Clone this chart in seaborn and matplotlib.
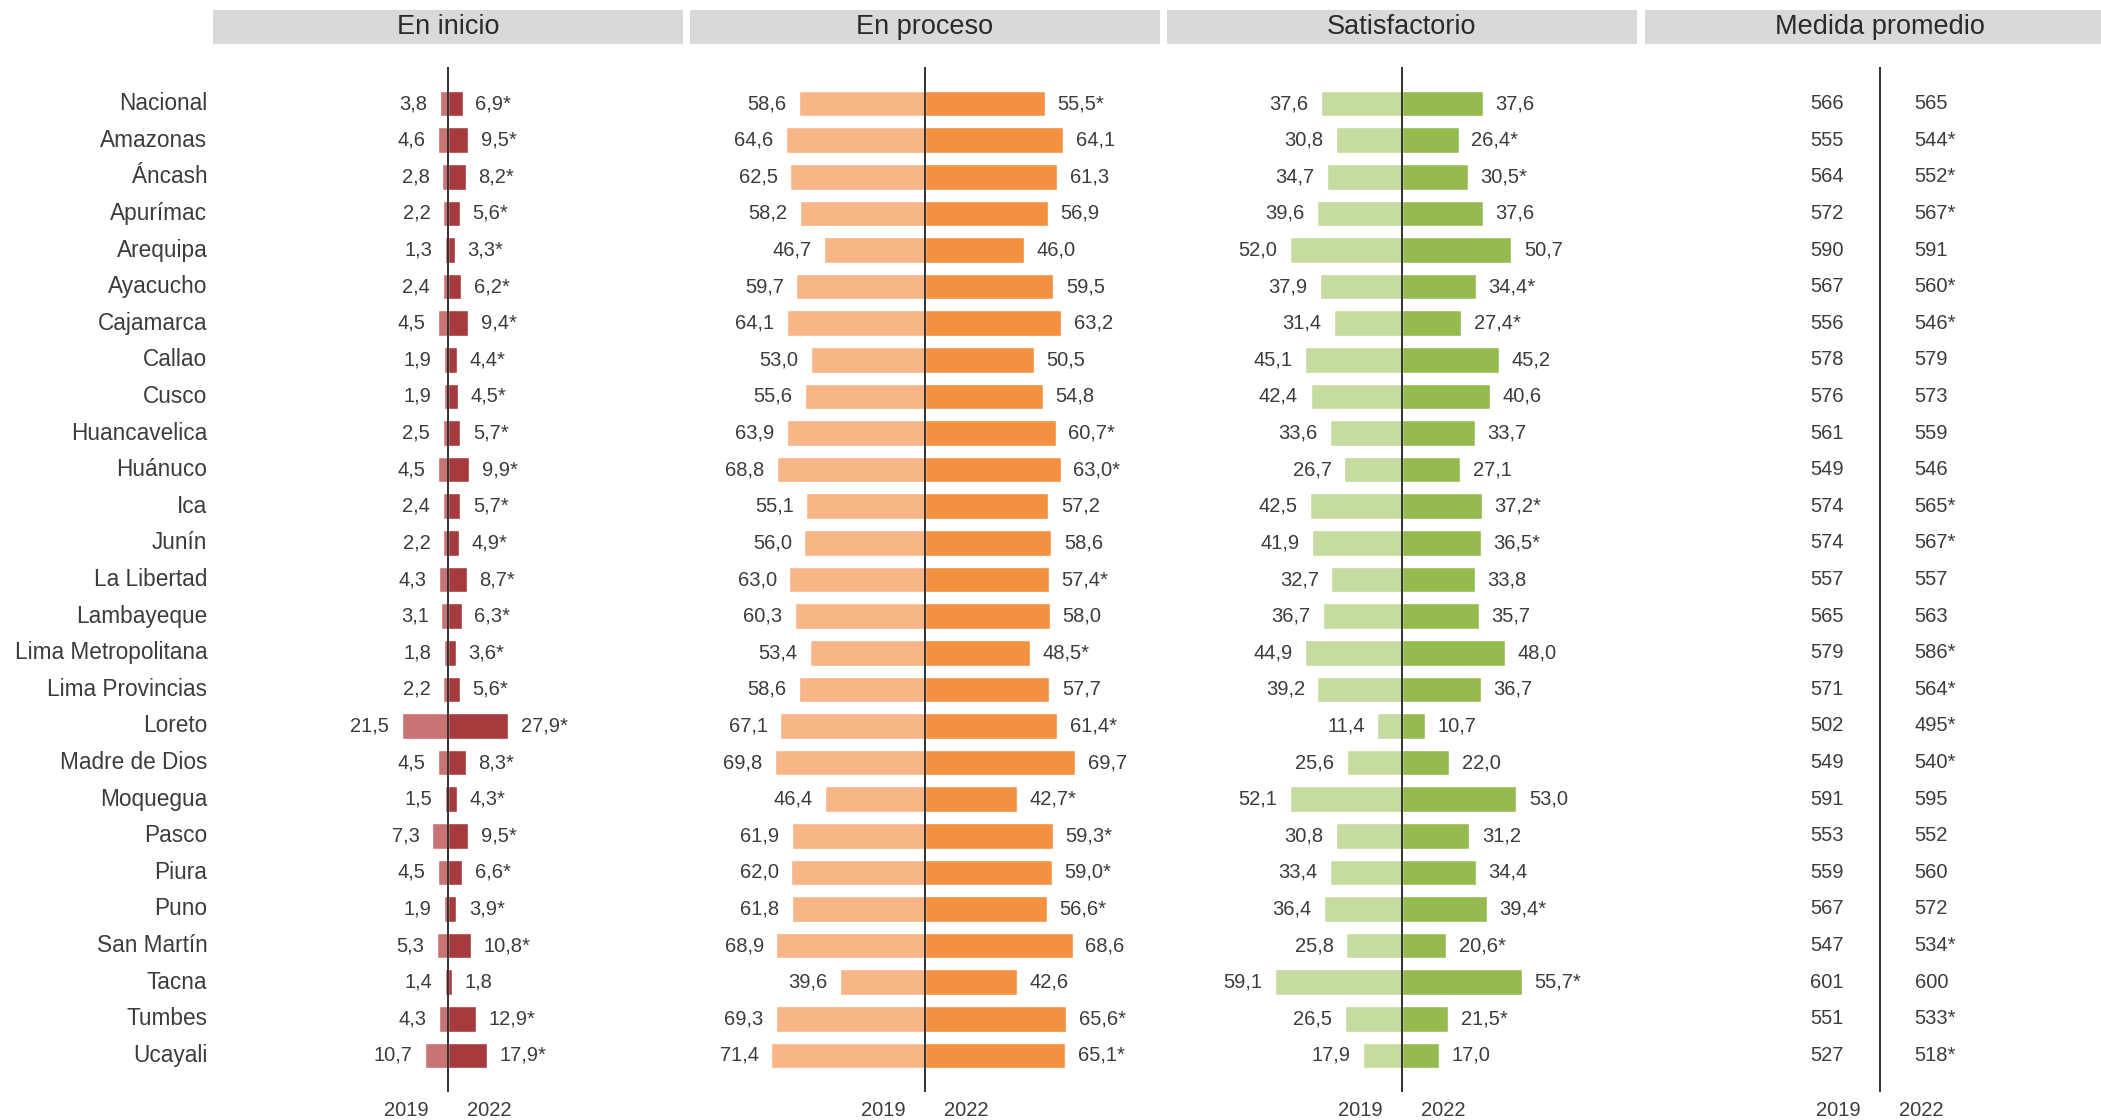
import numpy as np
import pandas as pd
import seaborn as sns
import matplotlib.pyplot as plt
from matplotlib.patches import Rectangle

# datos por region (2019 y 2022)
regiones = ['Nacional', 'Amazonas', 'Áncash', 'Apurímac', 'Arequipa', 'Ayacucho',
            'Cajamarca', 'Callao', 'Cusco', 'Huancavelica', 'Huánuco', 'Ica', 'Junín',
            'La Libertad', 'Lambayeque', 'Lima Metropolitana', 'Lima Provincias',
            'Loreto', 'Madre de Dios', 'Moquegua', 'Pasco', 'Piura', 'Puno',
            'San Martín', 'Tacna', 'Tumbes', 'Ucayali']
anios = ['2019', '2022']
titulos = ['En inicio', 'En proceso', 'Satisfactorio', 'Medida promedio']

inicio_2019 = [3.8, 4.6, 2.8, 2.2, 1.3, 2.4, 4.5, 1.9, 1.9, 2.5, 4.5, 2.4, 2.2, 4.3,
               3.1, 1.8, 2.2, 21.5, 4.5, 1.5, 7.3, 4.5, 1.9, 5.3, 1.4, 4.3, 10.7]
inicio_2022 = [6.9, 9.5, 8.2, 5.6, 3.3, 6.2, 9.4, 4.4, 4.5, 5.7, 9.9, 5.7, 4.9, 8.7,
               6.3, 3.6, 5.6, 27.9, 8.3, 4.3, 9.5, 6.6, 3.9, 10.8, 1.8, 12.9, 17.9]
inicio_sig = [1, 1, 1, 1, 1, 1, 1, 1, 1, 1, 1, 1, 1, 1,
              1, 1, 1, 1, 1, 1, 1, 1, 1, 1, 0, 1, 1]

proceso_2019 = [58.6, 64.6, 62.5, 58.2, 46.7, 59.7, 64.1, 53.0, 55.6, 63.9, 68.8, 55.1, 56.0, 63.0,
                60.3, 53.4, 58.6, 67.1, 69.8, 46.4, 61.9, 62.0, 61.8, 68.9, 39.6, 69.3, 71.4]
proceso_2022 = [55.5, 64.1, 61.3, 56.9, 46.0, 59.5, 63.2, 50.5, 54.8, 60.7, 63.0, 57.2, 58.6, 57.4,
                58.0, 48.5, 57.7, 61.4, 69.7, 42.7, 59.3, 59.0, 56.6, 68.6, 42.6, 65.6, 65.1]
proceso_sig = [1, 0, 0, 0, 0, 0, 0, 0, 0, 1, 1, 0, 0, 1,
               0, 1, 0, 1, 0, 1, 1, 1, 1, 0, 0, 1, 1]

satis_2019 = [37.6, 30.8, 34.7, 39.6, 52.0, 37.9, 31.4, 45.1, 42.4, 33.6, 26.7, 42.5, 41.9, 32.7,
              36.7, 44.9, 39.2, 11.4, 25.6, 52.1, 30.8, 33.4, 36.4, 25.8, 59.1, 26.5, 17.9]
satis_2022 = [37.6, 26.4, 30.5, 37.6, 50.7, 34.4, 27.4, 45.2, 40.6, 33.7, 27.1, 37.2, 36.5, 33.8,
              35.7, 48.0, 36.7, 10.7, 22.0, 53.0, 31.2, 34.4, 39.4, 20.6, 55.7, 21.5, 17.0]
satis_sig = [0, 1, 1, 0, 0, 1, 1, 0, 0, 0, 0, 1, 1, 0,
             0, 0, 0, 0, 0, 0, 0, 0, 1, 1, 1, 1, 0]

medida_2019 = [566, 555, 564, 572, 590, 567, 556, 578, 576, 561, 549, 574, 574, 557,
               565, 579, 571, 502, 549, 591, 553, 559, 567, 547, 601, 551, 527]
medida_2022 = [565, 544, 552, 567, 591, 560, 546, 579, 573, 559, 546, 565, 567, 557,
               563, 586, 564, 495, 540, 595, 552, 560, 572, 534, 600, 533, 518]
medida_sig = [0, 1, 1, 1, 0, 1, 1, 0, 0, 0, 0, 1, 1, 0,
              0, 1, 1, 1, 1, 0, 0, 0, 0, 1, 0, 1, 1]

sns.set_style('white')
plt.rcParams['font.family'] = ['Liberation Sans', 'DejaVu Sans']
TXT = '#3c3c3c'

fig = plt.figure(figsize=(21.01, 11.2), dpi=100)
W, H = 2101.0, 1120.0
panel_x = [213, 690, 1167, 1645]
panel_w = 470
ax_top, ax_bot = 67, 1092


def fmt(v, sig, dec=1):
    s = f'{v:.{dec}f}'.replace('.', ',')
    return s + ('*' if sig else '')


def header(i):
    x0 = panel_x[i] / W
    w = min(panel_w, W - panel_x[i]) / W
    fig.add_artist(Rectangle((x0, 1 - 44 / H), w, 34 / H, transform=fig.transFigure,
                             color='#d9d9d9', lw=0))
    fig.text((panel_x[i] + panel_w / 2) / W, 1 - 27 / H, titulos[i], ha='center',
             va='center', fontsize=19.5, color='#2a2a2a')


def make_ax(i):
    ax = fig.add_axes([panel_x[i] / W, 1 - ax_bot / H, panel_w / W, (ax_bot - ax_top) / H])
    return ax


def finish(ax):
    ax.axvline(0, color='#222222', lw=1.3, zorder=5)
    ax.set_xlim(-109, 109)
    ax.set_ylim(27.0, -1.0)
    sns.despine(ax=ax, left=True, bottom=True)
    ax.set_xlabel('')
    ax.set_ylabel('')
    ax.set_xticks([])
    for k, a in enumerate(anios):
        ax.annotate(a, xy=(0, 0), xycoords=('data', 'axes fraction'),
                    xytext=(-30 if k == 0 else 30, -13), textcoords='offset points',
                    ha='center', va='center', fontsize=14.5, color=TXT)


paneles = [
    (inicio_2019, inicio_2022, inicio_sig, ['#c97474', '#a63a3d']),
    (proceso_2019, proceso_2022, proceso_sig, ['#f8b686', '#f39140']),
    (satis_2019, satis_2022, satis_sig, ['#c6dba0', '#95bb4f']),
]

for i, (v19, v22, sig, pal) in enumerate(paneles):
    header(i)
    ax = make_ax(i)
    df = pd.DataFrame({
        'region': regiones * 2,
        'anio': ['2019'] * len(regiones) + ['2022'] * len(regiones),
        'valor': [-v for v in v19] + list(v22),
    })
    sns.barplot(data=df, x='valor', y='region', hue='anio', order=regiones,
                hue_order=anios, palette=pal, dodge=False, orient='h', width=0.7,
                errorbar=None, legend=False, saturation=1, ax=ax)
    for j in range(len(regiones)):
        ax.annotate(fmt(v19[j], False), xy=(-v19[j], j), xytext=(-9, 0),
                    textcoords='offset points', ha='right', va='center',
                    fontsize=14.5, color=TXT)
        ax.annotate(fmt(v22[j], sig[j]), xy=(v22[j], j), xytext=(9, 0),
                    textcoords='offset points', ha='left', va='center',
                    fontsize=14.5, color=TXT)
    finish(ax)
    if i == 0:
        ax.set_yticks(range(len(regiones)))
        ax.set_yticklabels(regiones, fontsize=16.3, color=TXT, va='center')
        ax.tick_params(axis='y', length=0, pad=4)
    else:
        ax.set_yticks([])

# medida promedio: solo valores
header(3)
ax = make_ax(3)
for j in range(len(regiones)):
    ax.annotate(fmt(medida_2019[j], False, 0), xy=(0, j), xytext=(-26, 0),
                textcoords='offset points', ha='right', va='center', fontsize=14.5, color=TXT)
    ax.annotate(fmt(medida_2022[j], medida_sig[j], 0), xy=(0, j), xytext=(25, 0),
                textcoords='offset points', ha='left', va='center', fontsize=14.5, color=TXT)
finish(ax)
ax.set_yticks([])

fig.savefig('out.png', dpi=100)
